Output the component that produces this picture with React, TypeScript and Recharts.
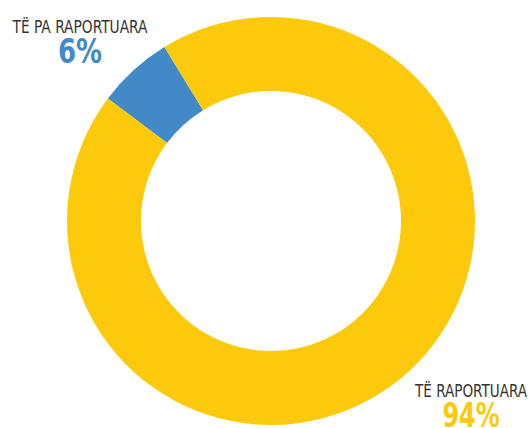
import React from "react";
import { PieChart, Pie, Cell } from "recharts";

const categories = ["TË PA RAPORTUARA", "TË RAPORTUARA"];
const values = [6, 94];
const percentLabels = ["6%", "94%"];
const colors = ["#4189C7", "#FDCA0B"];

const data = categories.map((name, i) => ({ name, value: values[i] }));

const FONT = "'Liberation Sans Narrow', 'DejaVu Sans Condensed', 'Roboto Condensed', 'Liberation Sans', sans-serif";

const renderLabel = (props: any) => {
  const { cx, cy, index } = props;
  const isBlue = index === 0;
  const x = isBlue ? cx - 191 : cx + 200;
  const y = isBlue ? cy - 188 : cy + 176;
  const nameWidth = isBlue ? 135 : 112;
  const pctWidth = isBlue ? 44 : 57;
  return (
    <g key={`lbl-${index}`}>
      <text
        x={x}
        y={y}
        textAnchor="middle"
        fill="#333333"
        fontFamily={FONT}
        fontSize={17}
        textLength={nameWidth}
        lengthAdjust="spacingAndGlyphs"
      >
        {categories[index]}
      </text>
      <text
        x={x}
        y={y + 30}
        textAnchor="middle"
        fill={colors[index]}
        fontFamily={FONT}
        fontWeight="bold"
        fontSize={33}
        textLength={pctWidth}
        lengthAdjust="spacingAndGlyphs"
      >
        {percentLabels[index]}
      </text>
    </g>
  );
};

export default function App() {
  return (
    <div style={{ position: "absolute", left: 0, top: 0, width: 530, height: 428, background: "#fff" }}>
      <PieChart width={530} height={428} margin={{ top: 0, right: 0, bottom: 0, left: 0 }}>
        <Pie
          data={data}
          dataKey="value"
          nameKey="name"
          cx={271}
          cy={221}
          innerRadius={130}
          outerRadius={204}
          startAngle={121.5}
          endAngle={481.5}
          stroke="none"
          isAnimationActive={false}
          label={renderLabel}
          labelLine={false}
        >
          {data.map((d, i) => (
            <Cell key={d.name} fill={colors[i]} />
          ))}
        </Pie>
      </PieChart>
    </div>
  );
}
